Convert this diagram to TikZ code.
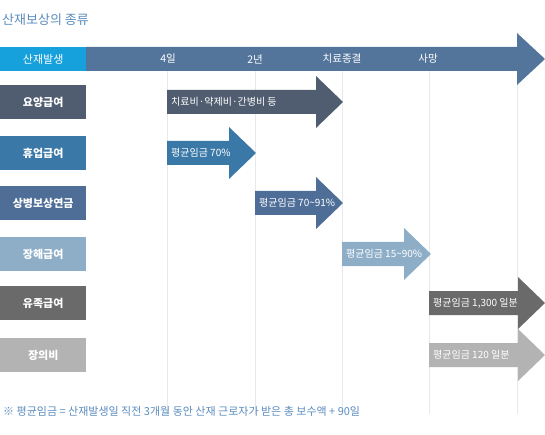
\documentclass[tikz,border=0pt]{standalone}
\usepackage{fontspec}
\setmainfont{Noto Sans CJK KR}
\usetikzlibrary{positioning,calc}
\definecolor{titleblue}{RGB}{90,140,190}
\definecolor{barblue}{RGB}{84,117,155}
\definecolor{startcyan}{RGB}{22,160,220}
\definecolor{gridgray}{RGB}{230,232,235}
\definecolor{rowa}{RGB}{80,93,113}
\definecolor{rowb}{RGB}{58,120,168}
\definecolor{rowc}{RGB}{78,110,152}
\definecolor{rowd}{RGB}{142,174,200}
\definecolor{rowe}{RGB}{106,106,106}
\definecolor{rowf}{RGB}{179,179,179}
\tikzset{
  rowbox/.style={minimum width=86pt, minimum height=34pt, inner sep=0pt, anchor=west,
                 text=white, font=\fontsize{11}{12}\selectfont\bfseries},
  headlbl/.style={text=white, inner sep=0pt, font=\fontsize{10.5}{12}\selectfont},
  arrowtxt/.style={text=white, inner sep=0pt, anchor=west, font=\fontsize{10}{11}\selectfont},
  gridline/.style={draw=gridgray, line width=0.9pt}
}

\begin{document}
\begin{tikzpicture}[x=1pt, y=-1pt]
  \useasboundingbox (0,0) rectangle (545,435);

  % title
  \node[anchor=west, inner sep=0pt, text=titleblue, font=\fontsize{13}{15}\selectfont]
       (title) at (2,20) {산재보상의 종류};

  % grid lines
  \foreach \gx in {167,255,342,429,517}{
    \draw[gridline] (\gx,71) -- (\gx,414);
  }

  % timeline bar
  \fill[barblue] (86,47) -- (517,47) -- (517,33) -- (545,59) -- (517,85) -- (517,71) -- (86,71) -- cycle;
  \node[fill=startcyan, minimum width=86pt, minimum height=24pt, inner sep=0pt, anchor=west,
        text=white, font=\fontsize{11}{12}\selectfont] (start) at (0,59) {산재발생};
  \node[headlbl] (day4)  at (168,59) {4일};
  \node[headlbl] (year2) at (255,59) {2년};
  \node[headlbl] (cure)  at (342,59) {치료종결};
  \node[headlbl] (death) at (428,59) {사망};

  % benefit rows
  \foreach \y/\nm/\lbl/\col/\xa/\xb/\txt in {
      102/yoyang/요양급여/rowa/167/343/{치료비·약제비·간병비 등},
      153/hyueop/휴업급여/rowb/167/256/{평균임금 70\%},
      203/sangbyeong/상병보상연금/rowc/255/343/{평균임금 70\textasciitilde{}91\%},
      254/janghae/장해급여/rowd/342/431/{평균임금 15\textasciitilde{}90\%},
      303/yujok/유족급여/rowe/429/545/{평균임금 1,300 일분},
      355/jangui/장의비/rowf/429/545/{평균임금 120 일분}}{
    \node[rowbox, fill=\col] (b\nm) at (0,\y) {\lbl};
    \fill[\col] (\xa,\y-12) -- (\xb-27,\y-12) -- (\xb-27,\y-26) -- (\xb,\y)
                -- (\xb-27,\y+26) -- (\xb-27,\y+12) -- (\xa,\y+12) -- cycle;
    \node[arrowtxt] (t\nm) at (\xa+4,\y) {\txt};
  }

  % footnote
  \node[anchor=west, inner sep=0pt, text=titleblue, font=\fontsize{11}{13}\selectfont]
       (note) at (3,411) {※ 평균임금 = 산재발생일 직전 3개월 동안 산재 근로자가 받은 총 보수액 + 90일};
\end{tikzpicture}
\end{document}
